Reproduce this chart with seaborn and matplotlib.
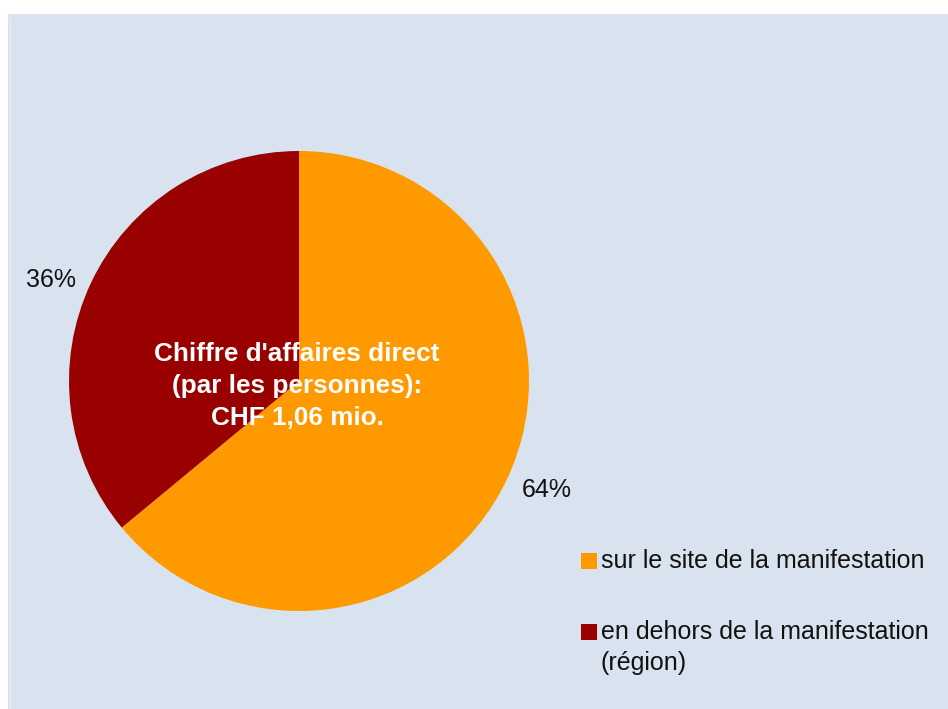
import matplotlib
matplotlib.use("Agg")
import matplotlib.pyplot as plt
from matplotlib.patches import Rectangle
import seaborn as sns

# Direct turnover generated by visitors, split by where it was spent
categories = ["sur le site de la manifestation", "en dehors de la manifestation\n(région)"]
shares = [64, 36]
pct_labels = [f"{v}%" for v in shares]
center_title = "Chiffre d'affaires direct\n(par les personnes):\nCHF 1,06 mio."

sns.set_theme(style="white")
plt.rcParams["font.family"] = ["Liberation Sans", "DejaVu Sans"]

colors = sns.color_palette(["#FF9900", "#990000"])
panel_color = "#D9E3EF"
text_color = "#111111"

W, H = 948, 709
fig = plt.figure(figsize=(W / 100, H / 100), dpi=100, facecolor="white")

ax = fig.add_axes([0, 0, 1, 1])
ax.set_facecolor("none")

# light blue chart area
ax.add_patch(Rectangle((8, 0), W - 8, H - 14, facecolor=panel_color,
                       edgecolor="none", zorder=-2))
ax.add_patch(Rectangle((10, 0), 1.5, H - 18, facecolor="#E6ECF5",
                       edgecolor="none", zorder=-1))

cx, cy, r = 299, H - 381, 230
wedges, texts = ax.pie(shares, colors=colors, startangle=90, counterclock=False,
                       center=(cx, cy), radius=r, labels=pct_labels,
                       labeldistance=1.07,
                       wedgeprops=dict(linewidth=0),
                       textprops=dict(fontsize=18, color=text_color))
# outside labels hug the pie: right-aligned on the left side, left-aligned on the right
for t in texts:
    x, y = t.get_position()
    t.set_horizontalalignment("right" if x < cx else "left")
    t.set_position((x, y - 4))

ax.set_xlim(0, W)
ax.set_ylim(0, H)
ax.set_aspect("equal")
ax.axis("off")

ax.text(cx - 2, H - 386, center_title, ha="center", va="center",
        fontsize=18.8, fontweight="bold", color="white", linespacing=1.42)

# legend
legend_rows = [H - 561, H - 632]
for y, lab, col in zip(legend_rows, categories, colors):
    ax.add_patch(Rectangle((581, y - 8), 16, 16, facecolor=col, edgecolor="none"))
    ax.text(601, y + 12, lab, ha="left", va="top", fontsize=18,
            color=text_color, linespacing=1.38)

fig.savefig("out.png", dpi=100, facecolor="white")
